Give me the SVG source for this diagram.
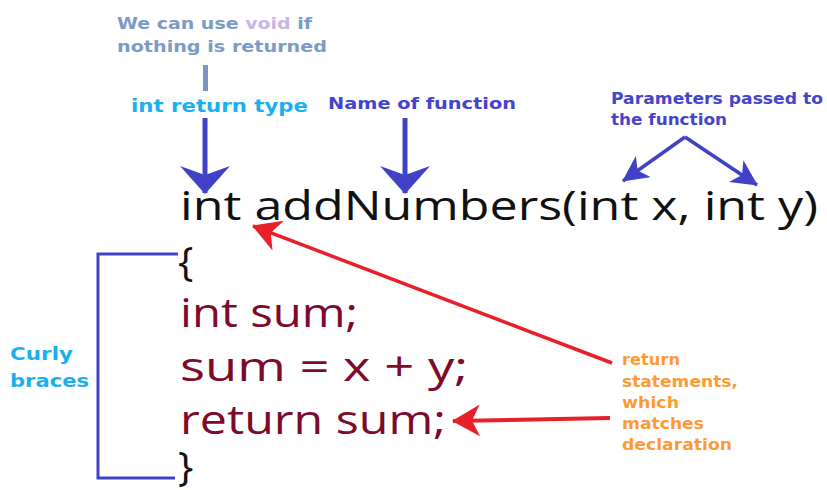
<svg xmlns="http://www.w3.org/2000/svg" width="827" height="490" viewBox="0 0 827 490">
<style>
.code{font-family:"Open Sans","Noto Sans",sans-serif;font-size:41px}
.lbl{font-family:"DejaVu Sans","Open Sans",sans-serif;font-weight:bold}
.blue{stroke:#4141c8;fill:none}
.red{stroke:#e8202a;fill:none}
</style>
<defs>
<marker id="bh" viewBox="0 0 28 50" refX="27" refY="25" markerWidth="28" markerHeight="50" orient="auto" markerUnits="userSpaceOnUse">
<path d="M0,0 L28,25 L0,50 L9,25 Z" fill="#4141c8"/>
</marker>
<marker id="bs" viewBox="0 0 26 26" refX="25" refY="13" markerWidth="26" markerHeight="26" orient="auto" markerUnits="userSpaceOnUse">
<path d="M0,0 L26,13 L0,26 L7,13 Z" fill="#4141c8"/>
</marker>
<marker id="rh" viewBox="0 0 28 32" refX="27" refY="16" markerWidth="28" markerHeight="32" orient="auto" markerUnits="userSpaceOnUse">
<path d="M0,0 L28,16 L0,32 L8,16 Z" fill="#e8202a"/>
</marker>
</defs>
<rect width="827" height="490" fill="#fff"/>
<g id="note-void">
<text class="lbl" x="117" y="29" font-size="15.5" fill="#7b9ac6" textLength="195" lengthAdjust="spacingAndGlyphs">We can use <tspan fill="#c9b6e4">void</tspan> if</text>
<text class="lbl" x="117" y="52" font-size="15.5" fill="#7b9ac6" textLength="210" lengthAdjust="spacingAndGlyphs">nothing is returned</text>
<rect x="203" y="65" width="5" height="26" fill="#7b94c0"/>
</g>
<g id="label-return-type"><text class="lbl" x="131" y="112" font-size="17" fill="#1ab0ef" textLength="177" lengthAdjust="spacingAndGlyphs">int return type</text></g>
<g id="label-name"><text class="lbl" x="328" y="109" font-size="16" fill="#4444cc" textLength="188" lengthAdjust="spacingAndGlyphs">Name of function</text></g>
<g id="label-params">
<text class="lbl" x="611" y="104" font-size="15" fill="#4444cc" textLength="212" lengthAdjust="spacingAndGlyphs">Parameters passed to</text>
<text class="lbl" x="611" y="125" font-size="15" fill="#4444cc" textLength="116" lengthAdjust="spacingAndGlyphs">the function</text>
</g>
<g id="label-braces">
<text class="lbl" x="10" y="360" font-size="17" fill="#1ab0ef" textLength="63" lengthAdjust="spacingAndGlyphs">Curly</text>
<text class="lbl" x="10" y="387" font-size="17" fill="#1ab0ef" textLength="79" lengthAdjust="spacingAndGlyphs">braces</text>
</g>
<g id="label-return-stmt" class="lbl" font-size="15" fill="#ff9a33">
<text x="622" y="365" textLength="58" lengthAdjust="spacingAndGlyphs">return</text>
<text x="622" y="387" textLength="116" lengthAdjust="spacingAndGlyphs">statements,</text>
<text x="622" y="408" textLength="57" lengthAdjust="spacingAndGlyphs">which</text>
<text x="622" y="429" textLength="82" lengthAdjust="spacingAndGlyphs">matches</text>
<text x="622" y="450" textLength="110" lengthAdjust="spacingAndGlyphs">declaration</text>
</g>
<g id="code">
<text class="code" x="180" y="220" fill="#111" font-size="43" textLength="638" lengthAdjust="spacingAndGlyphs">int addNumbers(int x, int y)</text>
<text class="code" x="178" y="276" fill="#111">{</text>
<text class="code" x="180" y="327" fill="#7d0a28" textLength="178" lengthAdjust="spacingAndGlyphs">int sum;</text>
<text class="code" x="180" y="381" fill="#7d0a28" textLength="288" lengthAdjust="spacingAndGlyphs">sum = x + y;</text>
<text class="code" x="180" y="434" fill="#7d0a28" textLength="266" lengthAdjust="spacingAndGlyphs">return sum;</text>
<text class="code" x="178" y="481" fill="#111">}</text>
</g>
<g id="connectors">
<path class="blue" d="M205,118 V193" stroke-width="5" marker-end="url(#bh)"/>
<path class="blue" d="M405,118 V193" stroke-width="5" marker-end="url(#bh)"/>
<path class="blue" d="M685,137 L623,181" stroke-width="3.5" marker-end="url(#bs)"/>
<path class="blue" d="M685,137 L757,185" stroke-width="3.5" marker-end="url(#bs)"/>
<path class="blue" d="M178,254 H98 V478 H175" stroke-width="3"/>
<path class="red" d="M612,363 L253,226" stroke-width="3.5" marker-end="url(#rh)"/>
<path class="red" d="M610,418 L453,421" stroke-width="4" marker-end="url(#rh)"/>
</g>
</svg>
